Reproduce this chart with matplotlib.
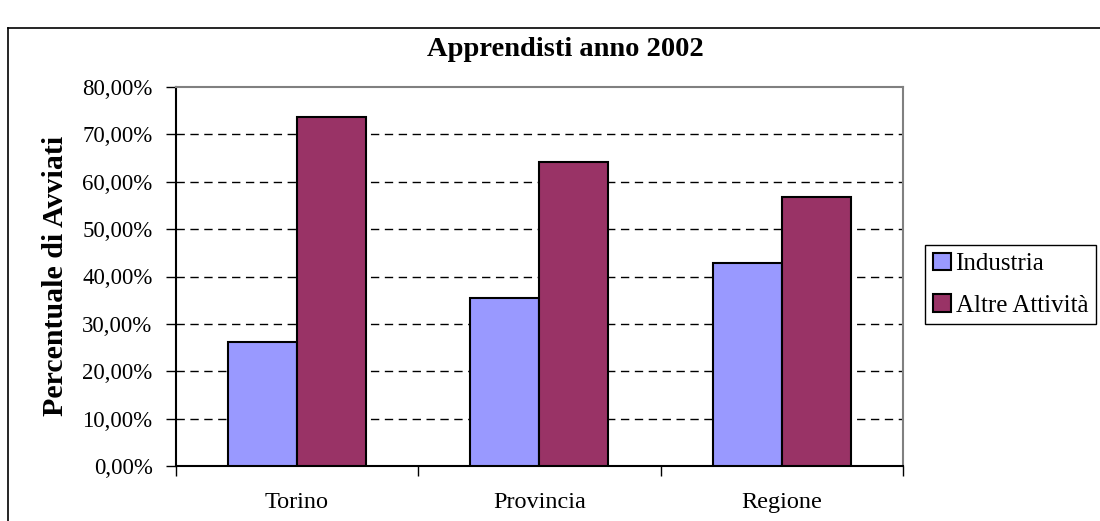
import matplotlib
matplotlib.use("Agg")
import matplotlib.pyplot as plt
from matplotlib.lines import Line2D
from matplotlib.ticker import FuncFormatter
import numpy as np

categories = ["Torino", "Provincia", "Regione"]
industria = [26.1, 35.5, 42.8]
altre = [73.6, 64.2, 56.7]
series_names = ["Industria", "Altre Attività"]
title = "Apprendisti anno 2002"
ylabel = "Percentuale di Avviati"

W, H = 1100, 521
fig = plt.figure(figsize=(W / 100, H / 100), dpi=100)
plt.rcParams['font.family'] = ['Liberation Serif', 'DejaVu Serif']

L, R, T, B = 175.5, 903, 87, 466
ax = fig.add_axes([L / W, 1 - B / H, (R - L) / W, (B - T) / H])

x = np.arange(len(categories))
bw = 0.284
ax.bar(x - bw / 2, industria, bw, color="#9999FF", edgecolor="black", linewidth=1.5, label=series_names[0], zorder=3)
ax.bar(x + bw / 2, altre, bw, color="#993366", edgecolor="black", linewidth=1.5, label=series_names[1], zorder=3)

ax.set_xlim(-0.5, len(categories) - 0.5)
ax.set_ylim(0, 80)
ax.set_yticks(np.arange(0, 81, 10))
ax.yaxis.set_major_formatter(FuncFormatter(lambda v, p: f"{v:.2f}".replace(".", ",") + "%"))
for yv in range(10, 80, 10):
    ax.axhline(yv, color="black", linewidth=1, linestyle=(0, (6, 4)), zorder=1)

ax.set_xticks(x)
ax.set_xticklabels(categories, fontsize=17.5)
ax.set_xticks(np.arange(-0.5, len(categories), 1), minor=True)
ax.tick_params(axis="x", which="major", length=0, pad=19)
ax.tick_params(axis="x", which="minor", length=7, width=1, direction="out", color="black")
ax.tick_params(axis="y", length=7, width=1, direction="out", labelsize=16.5, pad=9.5)

for s in ["left", "bottom"]:
    ax.spines[s].set_color("black")
    ax.spines[s].set_linewidth(1.5)
for s in ["top", "right"]:
    ax.spines[s].set_color("#808080")
    ax.spines[s].set_linewidth(1.5)

fig.text(565 / W, 1 - 50 / H, title, ha="center", va="center", fontsize=20.5, fontweight="bold")
fig.text(56 / W, 1 - 276 / H, ylabel, ha="center", va="center", rotation=90, fontsize=21.5, fontweight="bold")

leg = fig.legend(loc="upper left", bbox_to_anchor=(925 / W, 1 - 245 / H), fontsize=18,
                 frameon=True, fancybox=False, edgecolor="black", framealpha=1,
                 handlelength=0.72, handleheight=0.72, handletextpad=0.2, borderpad=0.3,
                 labelspacing=0.75, borderaxespad=0)
leg.get_frame().set_linewidth(1)

fig.add_artist(Line2D([8 / W, 1], [1 - 28 / H, 1 - 28 / H], transform=fig.transFigure, color="black", linewidth=1.2))
fig.add_artist(Line2D([8 / W, 8 / W], [0, 1 - 28 / H], transform=fig.transFigure, color="black", linewidth=1.2))

fig.savefig("out.png", dpi=100, facecolor="white")
